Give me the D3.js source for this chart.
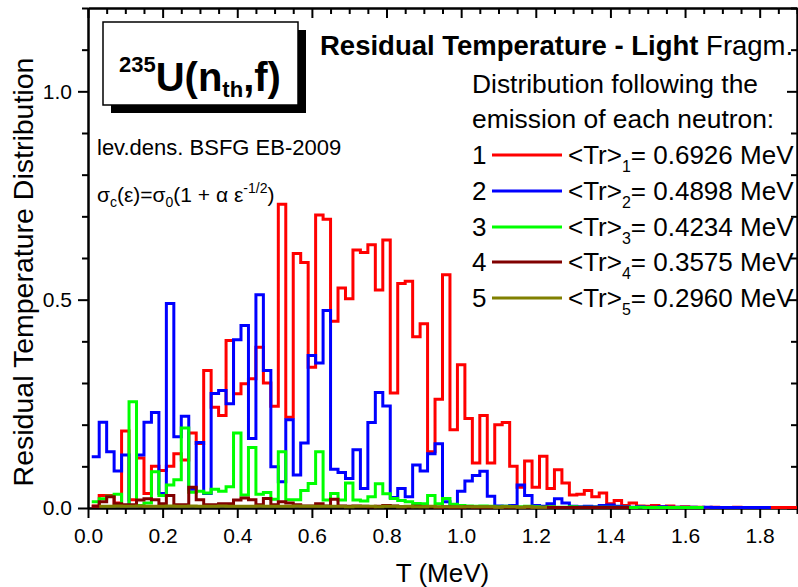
<!DOCTYPE html>
<html>
<head>
<meta charset="utf-8">
<script src="https://cdn.jsdelivr.net/npm/d3@7/dist/d3.min.js"></script>
<style>
  html, body { margin: 0; padding: 0; background: #fff; }
  svg { display: block; font-family: 'Liberation Sans', Arial, Helvetica, sans-serif; }
  .axis path, .axis line { stroke: #000; stroke-width: 2; }
  .axis text { font-size: 21px; fill: #000; font-family: 'Liberation Sans', Arial, sans-serif; }
  .hist { fill: none; stroke-width: 3; stroke-linejoin: miter; }
</style>
</head>
<body>
<svg id="chart" width="798" height="587"></svg>
<script>
// DATA (bin width 0.02 MeV)
const binWidth = 0.02;
const xTicks = [0.0, 0.2, 0.4, 0.6, 0.8, 1.0, 1.2, 1.4, 1.6, 1.8];
const yTicks = [0.0, 0.5, 1.0];
const neutronIds = ['1', '2', '3', '4', '5'];
const meanTr = ['0.6926', '0.4898', '0.4234', '0.3575', '0.2960'];
const firstCenter = [0.02, 0.02, 0.02, 0.02, 0.04];

const neutron1 = [0.005, 0.03, 0.03, 0.012, 0.185, 0.02, 0.12, 0.035, 0.10, 0.09,
  0.10, 0.13, 0.115, 0.18, 0.155, 0.33, 0.242, 0.222, 0.402, 0.274,
  0.298, 0.31, 0.386, 0.30, 0.244, 0.729, 0.218, 0.611, 0.589, 0.338,
  0.703, 0.693, 0.448, 0.528, 0.502, 0.619, 0.613, 0.632, 0.523, 0.643,
  0.276, 0.539, 0.544, 0.411, 0.442, 0.135, 0.261, 0.56, 0.188, 0.344,
  0.215, 0.108, 0.222, 0.108, 0.20, 0.205, 0.10, 0.05, 0.113, 0.05,
  0.124, 0.047, 0.092, 0.06, 0.031, 0.033, 0.042, 0.027, 0.036, 0.01,
  0.018, 0.006, 0.012, 0.005, 0.004, 0.006, 0.003, 0.005, 0.002, 0.003,
  0.002, 0.002, 0.001, 0.002, 0.001, 0.001, 0.002, 0.001, 0.001, 0.001,
  0.001, 0.001, 0.001, 0.001, 0.001];

const neutron2 = [0.123, 0.206, 0.135, 0.089, 0.127, 0.005, 0.127, 0.206, 0.229, 0.035,
  0.491, 0.171, 0.22, 0.045, 0.157, 0.035, 0.275, 0.282, 0.25, 0.404,
  0.438, 0.167, 0.512, 0.33, 0.099, 0.063, 0.212, 0.079, 0.156, 0.366,
  0.348, 0.474, 0.093, 0.085, 0.071, 0.14, 0.047, 0.205, 0.277, 0.245,
  0.025, 0.047, 0.027, 0.103, 0.089, 0.13, 0.154, 0.015, 0.008, 0.04,
  0.065, 0.078, 0.088, 0.028, 0.005, 0.004, 0.006, 0.055, 0.03, 0.006,
  0.004, 0.01, 0.022, 0.012, 0.004, 0.003, 0.004, 0.003, 0.006, 0.007,
  0.004, 0.003, 0.002, 0.003, 0.002, 0.002, 0.003, 0.002, 0.002, 0.002,
  0.002, 0.001, 0.002, 0.001, 0.001, 0.001, 0.001, 0.001, 0.001, 0.001,
  0.001];

const neutron3 = [0.015, 0.022, 0.028, 0.033, 0.006, 0.255, 0.006, 0.012, 0.087, 0.03,
  0.055, 0.068, 0.192, 0.038, 0.04, 0.036, 0.045, 0.04, 0.051, 0.18,
  0.031, 0.145, 0.033, 0.037, 0.021, 0.135, 0.02, 0.02, 0.042, 0.059,
  0.135, 0.019, 0.035, 0.019, 0.06, 0.019, 0.017, 0.027, 0.058, 0.034,
  0.023, 0.018, 0.015, 0.011, 0.01, 0.03, 0.01, 0.023, 0.009, 0.006,
  0.005, 0.004, 0.005, 0.004, 0.003, 0.004, 0.003, 0.003, 0.004, 0.003,
  0.002, 0.003, 0.002, 0.002, 0.003, 0.002, 0.002, 0.002, 0.002, 0.002,
  0.002, 0.002, 0.001, 0.002, 0.001, 0.001, 0.001, 0.001, 0.001, 0.001,
  0.001, 0.001];

const neutron4 = [0.004, 0.015, 0.027, 0.01, 0.008, 0.008, 0.019, 0.022, 0.02, 0.01,
  0.03, 0.008, 0.008, 0.05, 0.02, 0.008, 0.008, 0.01, 0.01, 0.019,
  0.024, 0.02, 0.008, 0.023, 0.008, 0.015, 0.012, 0.008, 0.005, 0.005,
  0.01, 0.005, 0.021, 0.005, 0.004, 0.005, 0.004, 0.003, 0.004, 0.006,
  0.005, 0.003, 0.003, 0.004, 0.003, 0.003, 0.002, 0.003, 0.002, 0.002,
  0.003, 0.002, 0.002, 0.002, 0.002, 0.002, 0.002, 0.001, 0.002, 0.001,
  0.001, 0.002, 0.001, 0.001, 0.001, 0.001, 0.001, 0.001, 0.001, 0.001,
  0.001, 0.001];

const neutron5 = [0.004, 0.004, 0.005, 0.004, 0.004, 0.005, 0.004, 0.004, 0.004, 0.005,
  0.004, 0.004, 0.005, 0.004, 0.004, 0.004, 0.005, 0.004, 0.004, 0.004,
  0.004, 0.005, 0.004, 0.004, 0.004, 0.004, 0.005, 0.004, 0.004, 0.004,
  0.004, 0.004, 0.004, 0.003, 0.004, 0.004, 0.004, 0.003, 0.004, 0.004,
  0.003, 0.004, 0.003, 0.003, 0.004, 0.003, 0.003, 0.003, 0.003, 0.003,
  0.003, 0.003, 0.003, 0.002, 0.003, 0.003, 0.002, 0.003, 0.002, 0.002];

const colors = ['#ff0000', '#0000ff', '#00ff00', '#800000', '#808000'];

// SETUP
let svg = d3.select('svg'),
  margin = { top: 8, right: 1, bottom: 79, left: 88 },
  width = +svg.attr('width') - margin.left - margin.right,
  height = +svg.attr('height') - margin.top - margin.bottom,
  x = d3.scaleLinear().domain([0, 1.9]).range([0, width]),
  y = d3.scaleLinear().domain([0, 1.2]).range([height, 0]);

let xMinor = d3.range(0, 1.9001, 0.05).filter(function (t) {
  return Math.abs(t / 0.2 - Math.round(t / 0.2)) > 1e-6;
});
let yMinor = d3.range(0, 1.2001, 0.1).filter(function (t) {
  return Math.abs(t / 0.5 - Math.round(t / 0.5)) > 1e-6;
});

let g = svg.append('g')
  .attr('transform', 'translate(' + margin.left + ',' + margin.top + ')');

svg.append('defs').append('clipPath').attr('id', 'plot-clip')
  .append('rect')
  .attr('x', 0).attr('y', -2)
  .attr('width', width).attr('height', height + 3);

// AXES
g.append('g').attr('class', 'axis')
  .attr('transform', 'translate(0,' + height + ')')
  .call(d3.axisBottom(x).tickValues(xTicks).tickFormat(d3.format('.1f'))
    .tickSize(10).tickSizeOuter(0).tickPadding(10));
g.append('g').attr('class', 'axis')
  .attr('transform', 'translate(0,' + height + ')')
  .call(d3.axisBottom(x).tickValues(xMinor).tickFormat('').tickSize(6).tickSizeOuter(0));
g.append('g').attr('class', 'axis')
  .call(d3.axisTop(x).tickValues(xTicks).tickFormat('').tickSize(-10).tickSizeOuter(0));
g.append('g').attr('class', 'axis')
  .call(d3.axisTop(x).tickValues(xMinor).tickFormat('').tickSize(-6).tickSizeOuter(0));
g.append('g').attr('class', 'axis')
  .call(d3.axisLeft(y).tickValues(yTicks).tickFormat(d3.format('.1f'))
    .tickSize(10).tickSizeOuter(0).tickPadding(6));
g.append('g').attr('class', 'axis')
  .call(d3.axisLeft(y).tickValues(yMinor).tickFormat('').tickSize(6).tickSizeOuter(0));
g.append('g').attr('class', 'axis')
  .attr('transform', 'translate(' + width + ',0)')
  .call(d3.axisRight(y).tickValues(yTicks).tickFormat('').tickSize(-10).tickSizeOuter(0));
g.append('g').attr('class', 'axis')
  .attr('transform', 'translate(' + width + ',0)')
  .call(d3.axisRight(y).tickValues(yMinor).tickFormat('').tickSize(-6).tickSizeOuter(0));

// AXIS LABELS
svg.append('text')
  .attr('transform', 'rotate(-90)')
  .attr('x', -272)
  .attr('y', 33)
  .attr('text-anchor', 'middle')
  .style('font-size', '28.5px')
  .text('Residual Temperature Distribution');

svg.append('text')
  .attr('x', margin.left + width / 2)
  .attr('y', 582)
  .attr('text-anchor', 'middle')
  .style('font-size', '26px')
  .text('T (MeV)');

// HISTOGRAMS (step lines drawn on bin edges)
let series = [neutron1, neutron2, neutron3, neutron4, neutron5];

function stepPoints(values, start) {
  let pts = values.map(function (v, i) {
    return [start + i * binWidth - binWidth / 2, v];
  });
  let last = values.length - 1;
  pts.push([start + last * binWidth + binWidth / 2, values[last]]);
  return pts;
}

let line = d3.line()
  .x(function (d) { return x(d[0]); })
  .y(function (d) { return y(d[1]); })
  .curve(d3.curveStepAfter);

g.append('g').attr('clip-path', 'url(#plot-clip)')
  .selectAll('.hist')
  .data(series)
  .enter()
  .append('path')
  .attr('class', 'hist')
  .attr('d', function (d, i) { return line(stepPoints(d, firstCenter[i])); })
  .style('stroke', function (d, i) { return colors[i]; });

// REACTION BOX
svg.append('rect')
  .attr('x', 111).attr('y', 30).attr('width', 195).attr('height', 83)
  .style('fill', '#000');
svg.append('rect')
  .attr('x', 103).attr('y', 22).attr('width', 195).attr('height', 83)
  .style('fill', '#fff').style('stroke', '#000').style('stroke-width', 1.5);

let reaction = svg.append('text')
  .attr('x', 119).attr('y', 91)
  .style('font-weight', 'bold');
reaction.append('tspan').style('font-size', '22px').attr('dy', -19).text('235');
reaction.append('tspan').style('font-size', '40px').attr('dy', 19).text('U(n');
reaction.append('tspan').style('font-size', '22px').attr('dy', 6).text('th');
reaction.append('tspan').style('font-size', '40px').attr('dy', -6).text(',f)');

// NOTES
svg.append('text')
  .attr('x', 97).attr('y', 155)
  .style('font-size', '22px')
  .text('lev.dens. BSFG EB-2009');

let formula = svg.append('text')
  .attr('x', 97).attr('y', 202)
  .style('font-size', '21px');
formula.append('tspan').text('σ');
formula.append('tspan').style('font-size', '14px').attr('dy', 5).text('c');
formula.append('tspan').attr('dy', -5).text('(ε)=σ');
formula.append('tspan').style('font-size', '14px').attr('dy', 5).text('0');
formula.append('tspan').attr('dy', -5).text('(1 + α ε');
formula.append('tspan').style('font-size', '14px').attr('dy', -9).text('-1/2');
formula.append('tspan').attr('dy', 9).text(')');

// TITLE
let title = svg.append('text')
  .attr('x', 320).attr('y', 55)
  .style('font-size', '27.5px');
title.append('tspan').style('font-weight', 'bold').text('Residual Temperature - Light');
title.append('tspan').text(' Fragm.');

svg.append('text')
  .attr('x', 472).attr('y', 93)
  .style('font-size', '26.4px')
  .text('Distribution following the');
svg.append('text')
  .attr('x', 472).attr('y', 128)
  .style('font-size', '26.4px')
  .text('emission of each neutron:');

// LEGEND
let rowY = [155, 191, 227, 262, 298];
let legend = svg.selectAll('.legend-row')
  .data(neutronIds)
  .enter()
  .append('g')
  .attr('class', 'legend-row')
  .attr('transform', function (d, i) { return 'translate(0,' + rowY[i] + ')'; });

legend.append('text')
  .attr('x', 472).attr('y', 9)
  .style('font-size', '26px')
  .text(function (d) { return d; });

legend.append('line')
  .attr('x1', 492).attr('x2', 562)
  .attr('y1', 0).attr('y2', 0)
  .style('stroke', function (d, i) { return colors[i]; })
  .style('stroke-width', 3);

let legendText = legend.append('text')
  .attr('x', 568).attr('y', 9)
  .style('font-size', '26px');
legendText.append('tspan').text('<Tr>');
legendText.append('tspan').style('font-size', '16px').attr('dy', 8)
  .text(function (d) { return d; });
legendText.append('tspan').attr('dy', -8)
  .text(function (d, i) { return '= ' + meanTr[i] + ' MeV'; });
</script>
</body>
</html>
